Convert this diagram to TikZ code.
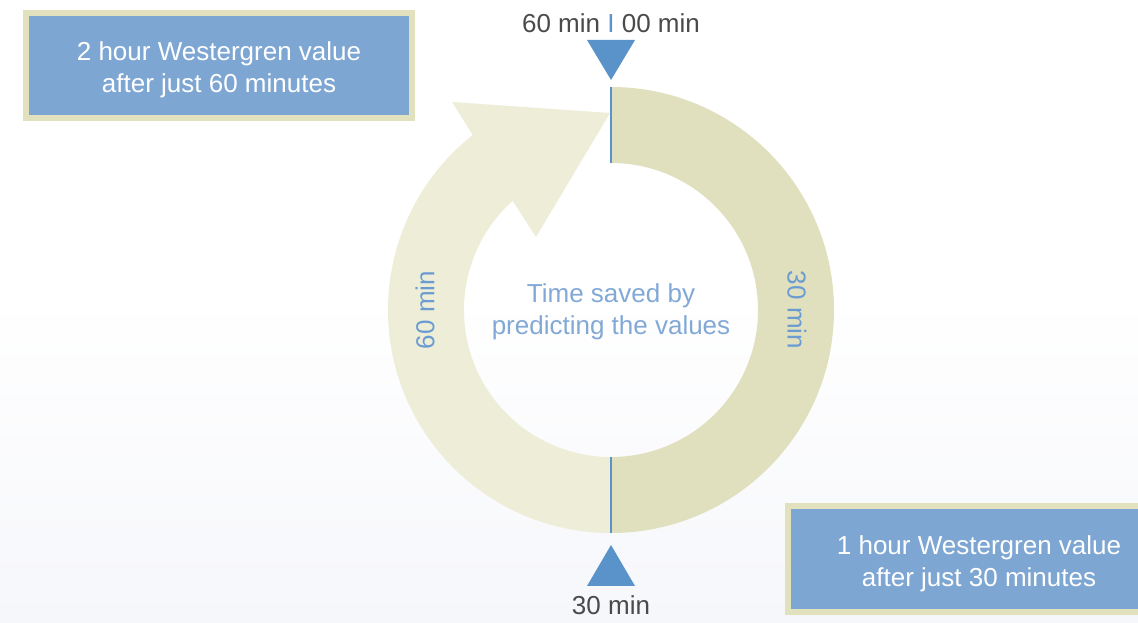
\documentclass[tikz,border=0pt]{standalone}
\usepackage{fontspec}
\setmainfont{Liberation Sans}
\definecolor{ringR}{HTML}{E1E0BE}
\definecolor{ringL}{HTML}{EDEDD8}
\definecolor{tickblue}{HTML}{5A93C9}
\definecolor{boxblue}{HTML}{7EA6D3}
\definecolor{boxedge}{HTML}{E2E1BE}
\definecolor{lblblue}{HTML}{6A9CD1}
\definecolor{ctrblue}{HTML}{82A9D6}
\definecolor{graytxt}{HTML}{4A4A4A}
\definecolor{bgbot}{HTML}{F6F7FB}
\tikzset{
  txt/.style={font=\fontsize{26}{32}\selectfont, align=center, inner sep=0pt},
  infobox/.style={fill=boxblue, draw=boxedge, line width=6pt, inner sep=0pt},
  tickline/.style={draw=tickblue, line width=2.2pt},
  marker/.style={fill=tickblue}
}
\begin{document}
\begin{tikzpicture}[x=1pt,y=1pt]
\useasboundingbox (0,0) rectangle (1138,623);
\fill[white] (0,0) rectangle (1138,623);
\shade[top color=white, bottom color=bgbot] (0,0) rectangle (1138,330);
\clip (0,0) rectangle (1138,623);
\coordinate (C) at (611,313);
% right half of ring
\fill[ringR] (611,536) arc[start angle=90, end angle=-90, radius=223] -- (611,166) arc[start angle=-90, end angle=90, radius=147] -- cycle;
% left half as arrow
\fill[ringL] (611,90) arc[start angle=270, end angle=128.3, radius=223] -- (452,521) -- (610,510) -- (536,386) -- (512.6,422.2) arc[start angle=132, end angle=270, radius=147] -- cycle;
% ticks
\coordinate (t1) at (611,536); \coordinate (t2) at (611,460);
\coordinate (b1) at (611,166); \coordinate (b2) at (611,90);
\draw[tickline] (t1) -- (t2);
\draw[tickline] (b1) -- (b2);
% triangles
\fill[marker] (587,583) -- (635,583) -- (611,543) -- cycle;
\fill[marker] (587,37) -- (635,37) -- (611,78) -- cycle;
% labels
\node[txt, text=graytxt] (toplbl) at (611,600) {60 min \textcolor{tickblue}{I} 00 min};
\node[txt, text=graytxt] (botlbl) at (611,18) {30 min};
\node[txt, text=lblblue, rotate=90] (leftlbl) at (425,313) {60 min};
\node[txt, text=lblblue, rotate=-90] (rightlbl) at (797,313) {30 min};
\node[txt, text=ctrblue] (center) at (611,311) {Time saved by\\predicting the values};
% boxes
\node[infobox, minimum width=386pt, minimum height=105pt] (boxA) at (219,557.5) {};
\node[txt, text=white] (boxAt) at ([yshift=-4pt]boxA.center) {2 hour Westergren value\\after just 60 minutes};
\node[infobox, minimum width=382pt, minimum height=106pt] (boxB) at (979,63.5) {};
\node[txt, text=white] (boxBt) at ([yshift=-4pt]boxB.center) {1 hour Westergren value\\after just 30 minutes};
\end{tikzpicture}
\end{document}
